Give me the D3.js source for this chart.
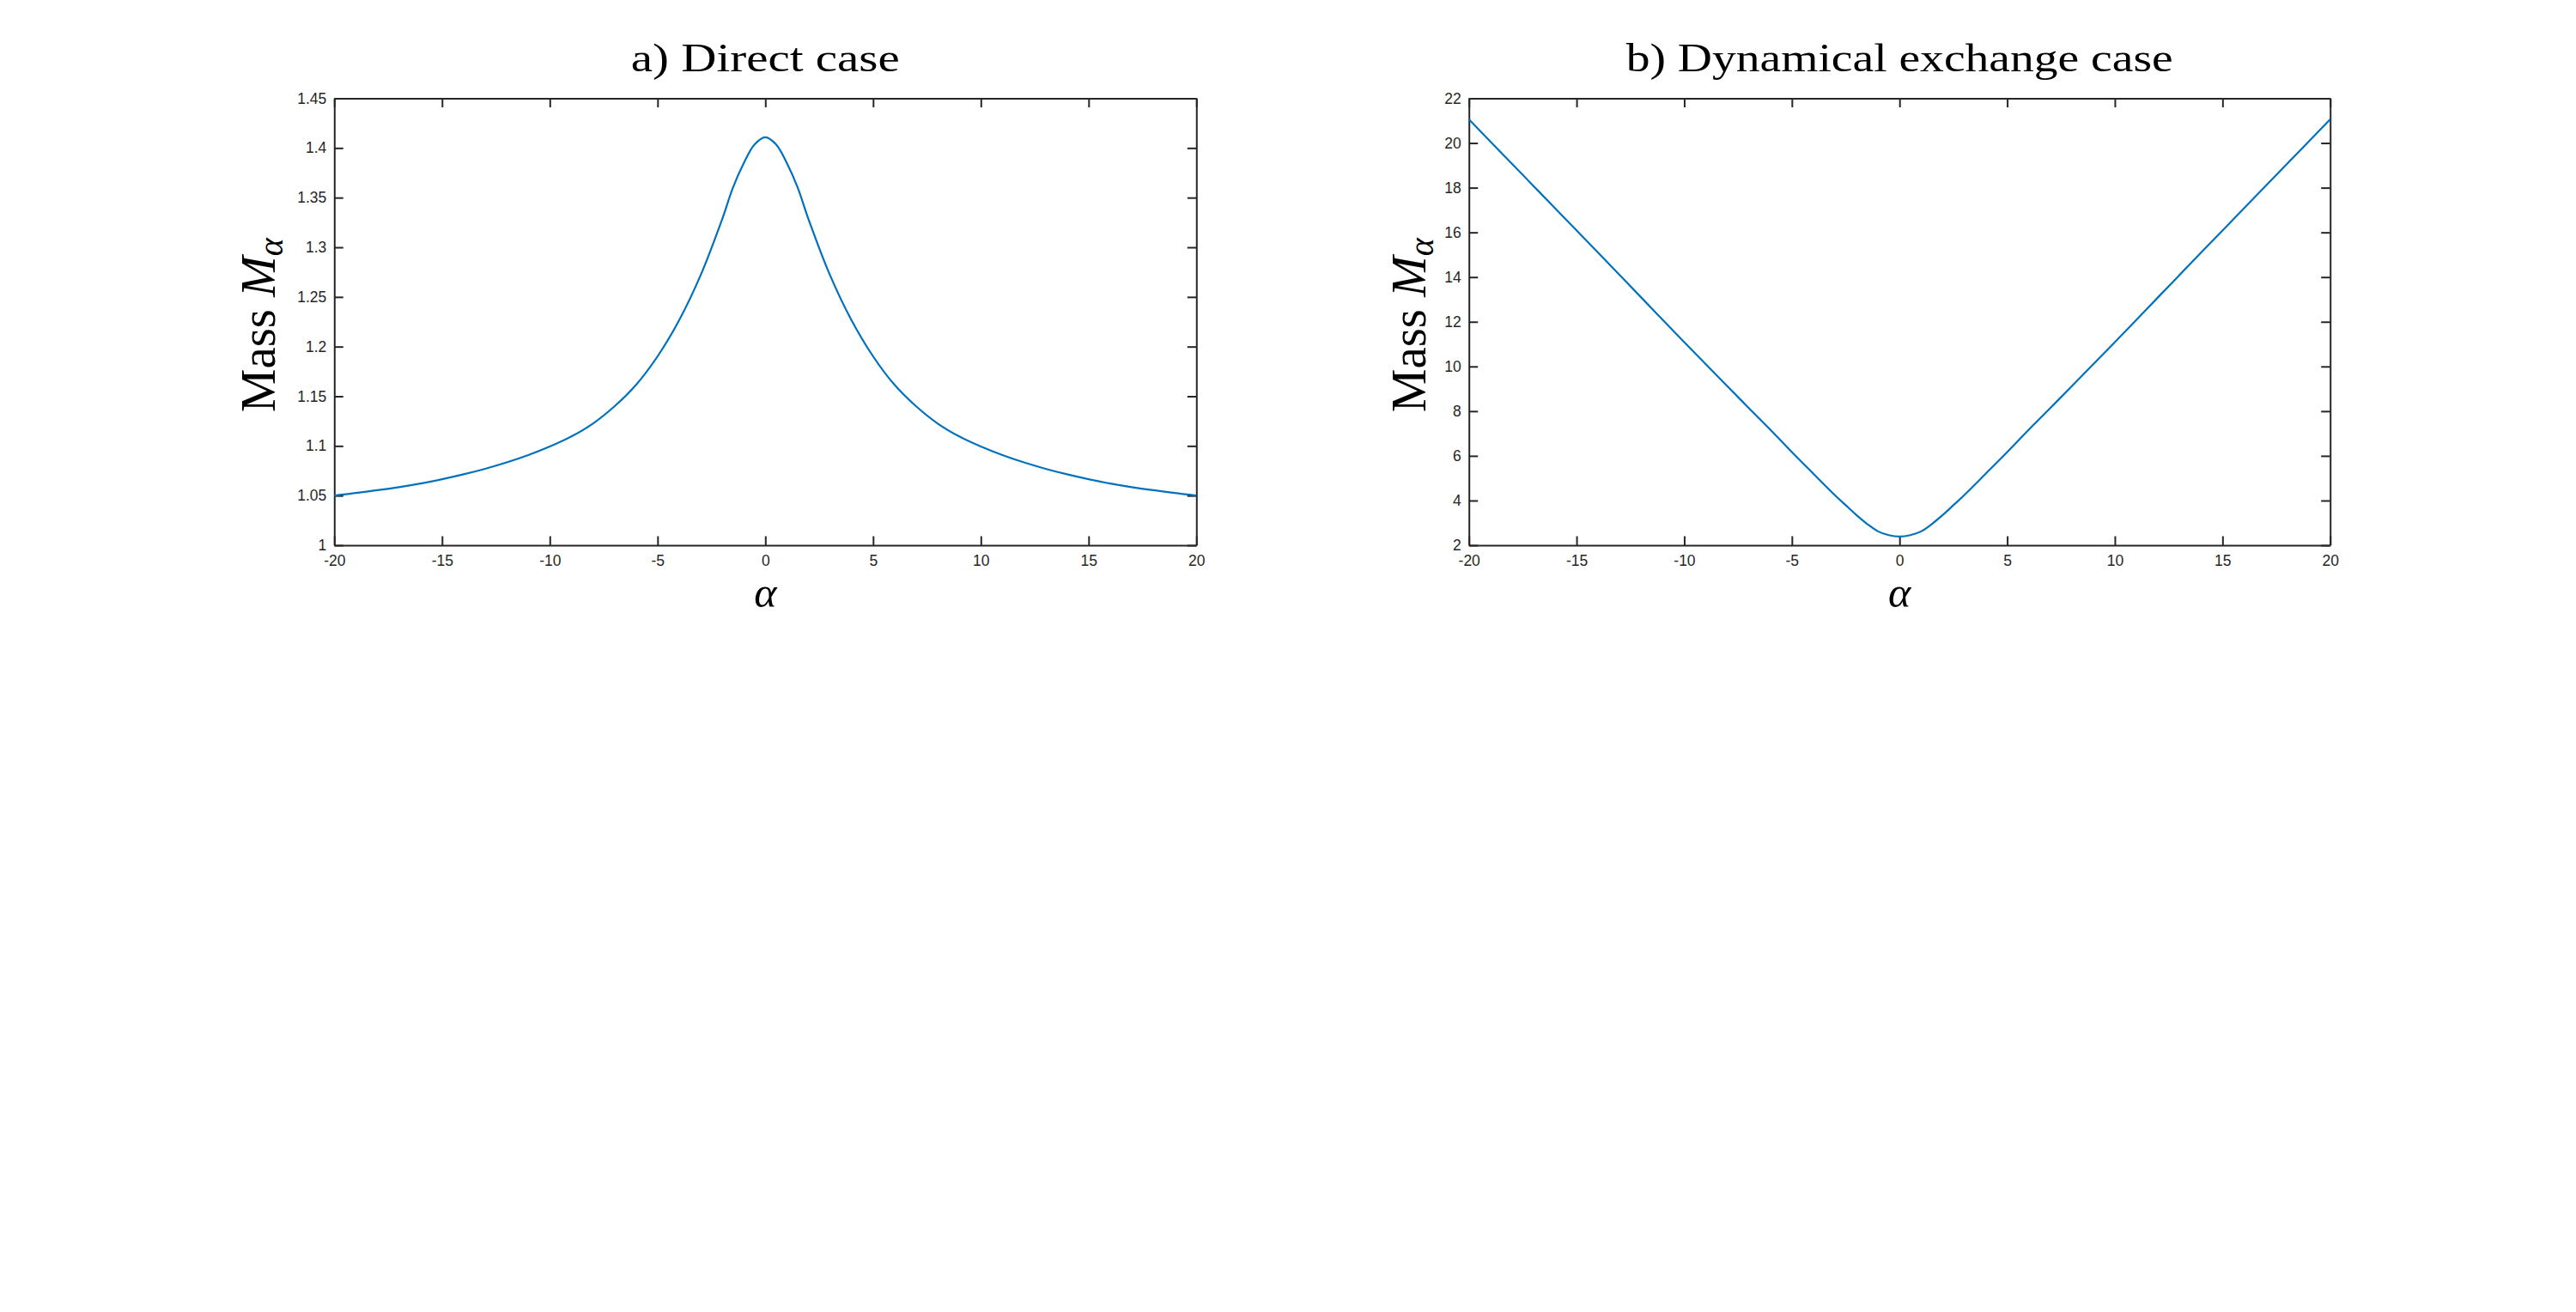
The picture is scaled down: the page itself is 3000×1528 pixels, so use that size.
<!DOCTYPE html>
<html><head><meta charset="utf-8">
<script src="https://cdn.jsdelivr.net/npm/d3@7/dist/d3.min.js"></script>
<style>body{margin:0;background:#fff}svg{display:block}</style>
</head><body><svg id="c" width="3000" height="1528"></svg>
<script>
// ---- data ----
const alphaA = [-20,-18,-16,-15,-14,-13,-12,-11,-10,-9,-8,-7,-6,-5,-4,-3,-2,-1.5,-1,-0.5,0,0.5,1,1.5,2,3,4,5,6,7,8,9,10,11,12,13,14,15,16,18,20];
const massA  = [1.050,1.0554,1.0622,1.0665,1.0714,1.0770,1.0834,1.0908,1.0994,1.1095,1.1225,1.1398,1.1614,1.1902,1.2265,1.2720,1.3285,1.3602,1.3847,1.4035,1.4107,
                1.4035,1.3847,1.3602,1.3285,1.2720,1.2265,1.1902,1.1614,1.1398,1.1225,1.1095,1.0994,1.0908,1.0834,1.0770,1.0714,1.0665,1.0622,1.0554,1.050];
const alphaB = [-20,-18,-16,-14,-12,-10,-8,-7,-6,-5,-4,-3,-2.5,-2,-1.5,-1,-0.5,0,0.5,1,1.5,2,2.5,3,4,5,6,7,8,10,12,14,16,18,20];
const massB  = [21.06,19.07,17.08,15.09,13.09,11.09,9.12,8.14,7.17,6.17,5.20,4.24,3.79,3.35,2.95,2.62,2.45,2.39,2.45,2.62,2.95,3.35,3.79,4.24,5.20,6.17,7.17,8.14,9.12,11.09,13.09,15.09,17.08,19.07,21.06];
const xTicks = [-20,-15,-10,-5,0,5,10,15,20];
const xTickLabels = ["-20","-15","-10","-5","0","5","10","15","20"];
const yTicksA = [1,1.05,1.1,1.15,1.2,1.25,1.3,1.35,1.4,1.45];
const yTickLabelsA = ["1","1.05","1.1","1.15","1.2","1.25","1.3","1.35","1.4","1.45"];
const yTicksB = [2,4,6,8,10,12,14,16,18,20,22];
const yTickLabelsB = ["2","4","6","8","10","12","14","16","18","20","22"];
const titles = ["a) Direct case","b) Dynamical exchange case"];
const titleWidths = [313, 637];

// ---- layout ----
const panels = [
  {x0:389.3, x1:1393.3, y0:114.5, y1:635, xd:[-20,20], yd:[1,1.45], yt:yTicksA, yl:yTickLabelsA, ax:alphaA, my:massA, ylabX:320},
  {x0:1710.7, x1:2713.7, y0:114.5, y1:635, xd:[-20,20], yd:[2,22], yt:yTicksB, yl:yTickLabelsB, ax:alphaB, my:massB, ylabX:1660}
];
const svg = d3.select("#c");
svg.append("rect").attr("width",3000).attr("height",1528).attr("fill","#fff");
const axisColor = "#262626";
const tickLen = 10.5;

panels.forEach((p,i)=>{
  const x = d3.scaleLinear().domain(p.xd).range([p.x0,p.x1]);
  const y = d3.scaleLinear().domain(p.yd).range([p.y1,p.y0]);
  const g = svg.append("g");

  const styleAxis = (sel)=>{
    sel.select(".domain").attr("stroke",axisColor).attr("stroke-width",2);
    sel.selectAll(".tick line").attr("stroke",axisColor).attr("stroke-width",2);
    sel.selectAll(".tick text").attr("fill",axisColor)
      .style("font-family","'Liberation Sans', Arial, sans-serif").style("font-size","17.5px");
  };
  // bottom
  g.append("g").attr("transform",`translate(0,${p.y1})`)
    .call(d3.axisBottom(x).tickValues(xTicks).tickSize(-tickLen).tickSizeOuter(0).tickPadding(12)
      .tickFormat((d,k)=>xTickLabels[k]))
    .call(styleAxis);
  // top
  g.append("g").attr("transform",`translate(0,${p.y0})`)
    .call(d3.axisTop(x).tickValues(xTicks).tickSize(-tickLen).tickSizeOuter(0).tickFormat(""))
    .call(styleAxis);
  // left
  g.append("g").attr("transform",`translate(${p.x0},0)`)
    .call(d3.axisLeft(y).tickValues(p.yt).tickSize(-tickLen).tickSizeOuter(0).tickPadding(9)
      .tickFormat((d,k)=>p.yl[k]))
    .call(styleAxis);
  // right
  g.append("g").attr("transform",`translate(${p.x1},0)`)
    .call(d3.axisRight(y).tickValues(p.yt).tickSize(-tickLen).tickSizeOuter(0).tickFormat(""))
    .call(styleAxis);

  // curve
  const pts = p.ax.map((a,k)=>[a,p.my[k]]);
  g.append("path").datum(pts)
    .attr("fill","none").attr("stroke","#0072BD").attr("stroke-width",2.2)
    .attr("stroke-linejoin","round")
    .attr("d", d3.line().x(d=>x(d[0])).y(d=>y(d[1])).curve(d3.curveCatmullRom.alpha(0.5)));

  const cx = (p.x0+p.x1)/2;
  // title
  g.append("text").attr("x",cx).attr("y",83).attr("text-anchor","middle")
    .attr("textLength",titleWidths[i]).attr("lengthAdjust","spacingAndGlyphs")
    .style("font-family","'Liberation Serif', 'Times New Roman', serif").style("font-size","46px")
    .attr("fill","#000").text(titles[i]);
  // x label
  g.append("text").attr("x",cx).attr("y",707).attr("text-anchor","middle")
    .style("font-family","'Liberation Serif', serif").style("font-size","50px").style("font-style","italic")
    .attr("fill","#000").text("α");
  // y label
  const yl = g.append("text").attr("transform",`translate(${p.ylabX},${(p.y0+p.y1)/2+4}) rotate(-90)`)
    .attr("text-anchor","middle")
    .style("font-family","'Liberation Serif', serif").style("font-size","57px").attr("fill","#000");
  yl.append("tspan").text("Mass ");
  yl.append("tspan").style("font-style","italic").text("M");
  yl.append("tspan").style("font-style","italic").style("font-size","40px").attr("dy",9).text("α");
});
</script>
</body></html>
